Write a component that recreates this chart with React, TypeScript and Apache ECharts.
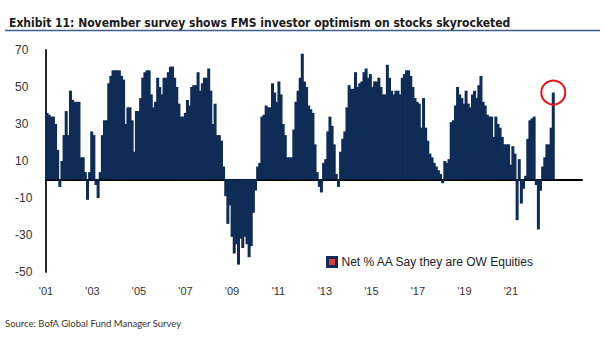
import React, { useEffect, useRef } from 'react';
import * as echarts from 'echarts';

// Net % of fund managers overweight equities, monthly, Jan 2001 .. Nov 2020
const v2001 = [36, 35, 34, 34, 30, 16, -4, 10, 24, 37, 24, 48];
const v2002 = [43, 42, 42, 42, 12, 12, 4, -11, 4, 26, 24, -3];
const v2003 = [-10, 4, 24, 32, 32, 52, 56, 59, 59, 59, 59, 56];
const v2004 = [54, 30, 39, 39, 32, 15, 37, 37, 44, 55, 58, 59];
const v2005 = [59, 46, 39, 42, 55, 50, 46, 55, 55, 58, 61, 61];
const v2006 = [55, 50, 41, 34, 34, 36, 43, 40, 50, 51, 51, 58];
const v2007 = [48, 52, 55, 55, 60, 48, 30, 41, 24, 24, 21, 7];
const v2008 = [-9, -24, -14, -31, -40, -35, -46, -32, -37, -31, -35, -42];
const v2009 = [-36, -18, -6, 7, 9, 34, 35, 40, 39, 39, 52, 47];
const v2010 = [42, 53, 46, 30, 24, 12, 12, 12, 27, 42, 48, 55];
const v2011 = [68, 53, 50, 40, 38, 36, 19, 4, -4, -7, 9, 11];
const v2012 = [26, 34, 29, 19, 3, -4, 15, 22, 26, 39, 51, 49];
const v2013 = [49, 58, 50, 52, 53, 58, 60, 55, 57, 50, 53, 53];
const v2014 = [55, 50, 46, 46, 62, 55, 48, 46, 48, 48, 46, 55];
const v2015 = [57, 59, 59, 56, 50, 44, 42, 41, 28, 44, 28, 21];
const v2016 = [14, 12, 9, 7, 5, 3, -2, 10, 9, 11, 31, 32];
const v2017 = [40, 50, 46, 44, 41, 48, 41, 39, 46, 48, 44, 51];
const v2018 = [56, 42, 40, 35, 34, 34, 23, 34, 30, 28, 23, 19];
const v2019 = [19, 19, 8, 18, 14, -22, 11, -13, -5, 2, 22, 32];
const v2020 = [33, 34, -3, -27, -6, 7, 12, 19, 19, 28, 47];

const netOW = [
  ...v2001, ...v2002, ...v2003, ...v2004, ...v2005, ...v2006, ...v2007,
  ...v2008, ...v2009, ...v2010, ...v2011, ...v2012, ...v2013, ...v2014,
  ...v2015, ...v2016, ...v2017, ...v2018, ...v2019, ...v2020,
];

const firstYear = 2001;
const lastYear = 2021;
const months: string[] = [];
for (let y = firstYear; y <= lastYear; y++) {
  for (let m = 1; m <= 12; m++) months.push(`${y}-${String(m).padStart(2, '0')}`);
}

const yearLabels = ["'01", "'03", "'05", "'07", "'09", "'11", "'13", "'15", "'17", "'19", "'21"];
const yTicks = { min: -50, max: 70, interval: 20 };

const seriesName = 'Net % AA Say they are OW Equities';
const titleText = 'Exhibit 11: November survey shows FMS investor optimism on stocks skyrocketed';
const sourceText = 'Source: BofA Global Fund Manager Survey';

const lastIdx = netOW.length - 1;

export default function App() {
  const ref = useRef<HTMLDivElement>(null);
  useEffect(() => {
    const chart = echarts.init(ref.current!, null, { renderer: 'svg' });
    const navy = '#0f2c56';
    chart.setOption({
      animation: false,
      backgroundColor: '#ffffff',
      title: {
        text: titleText,
        left: 4,
        top: 12,
        textStyle: {
          fontFamily: "'Liberation Sans Narrow', 'DejaVu Sans Condensed', sans-serif",
          fontWeight: 'bold',
          fontSize: 12,
          color: '#1a1a1a',
        },
      },
      graphic: [
        {
          type: 'line',
          shape: { x1: 5, y1: 30.5, x2: 600, y2: 30.5 },
          style: { stroke: '#3d5d8f', lineWidth: 1.5 },
        },
        {
          type: 'text',
          left: 5,
          top: 318,
          style: {
            text: sourceText,
            fontFamily: 'Lato, sans-serif',
            fontSize: 9.5,
            fill: '#333333',
          },
        },
      ],
      legend: {
        data: [seriesName],
        left: 321,
        top: 251,
        itemWidth: 9,
        itemHeight: 9,
        icon: 'rect',
        itemStyle: { color: '#e53935', borderColor: navy, borderWidth: 3 },
        textStyle: { fontFamily: "'Liberation Sans', Arial, sans-serif", fontSize: 12, color: '#222' },
      },
      grid: { left: 46, right: 23, top: 50, bottom: 69 },
      xAxis: [
        {
          type: 'category',
          data: months,
          position: 'bottom',
          axisLine: { onZero: true, lineStyle: { color: '#000', width: 2 } },
          axisTick: { show: false },
          axisLabel: { show: false },
          splitLine: { show: false },
        },
        {
          type: 'value',
          position: 'bottom',
          min: 0,
          max: 11.53,
          interval: 1,
          axisLine: { show: false, onZero: false },
          axisTick: { show: false },
          splitLine: { show: false },
          axisLabel: {
            margin: 13,
            fontFamily: "'Liberation Sans', Arial, sans-serif",
            fontSize: 11,
            color: '#333',
            showMaxLabel: false,
            formatter: (v: number) => (Number.isInteger(v) && yearLabels[v] ? yearLabels[v] : ''),
          },
        },
      ],
      yAxis: {
        type: 'value',
        min: yTicks.min,
        max: yTicks.max,
        interval: yTicks.interval,
        axisLine: { show: true, onZero: false, lineStyle: { color: '#2a2a2a', width: 2 } },
        axisTick: { show: false },
        splitLine: { show: false },
        axisLabel: {
          margin: 31,
          align: 'left',
          fontFamily: "'Liberation Sans', Arial, sans-serif",
          fontSize: 12,
          color: '#333',
        },
      },
      series: [
        {
          name: seriesName,
          type: 'bar',
          xAxisIndex: 0,
          data: netOW,
          barWidth: 3,
          itemStyle: { color: navy },
          markPoint: {
            symbol: 'circle',
            symbolSize: 24,
            silent: true,
            label: { show: false },
            itemStyle: { color: 'rgba(0,0,0,0)', borderColor: '#e8141c', borderWidth: 2 },
            data: [{ coord: [months[lastIdx], netOW[lastIdx]] }],
          },
        },
      ],
    });
    return () => chart.dispose();
  }, []);
  return <div ref={ref} style={{ position: 'absolute', left: 0, top: 0, width: 605, height: 341 }} />;
}
